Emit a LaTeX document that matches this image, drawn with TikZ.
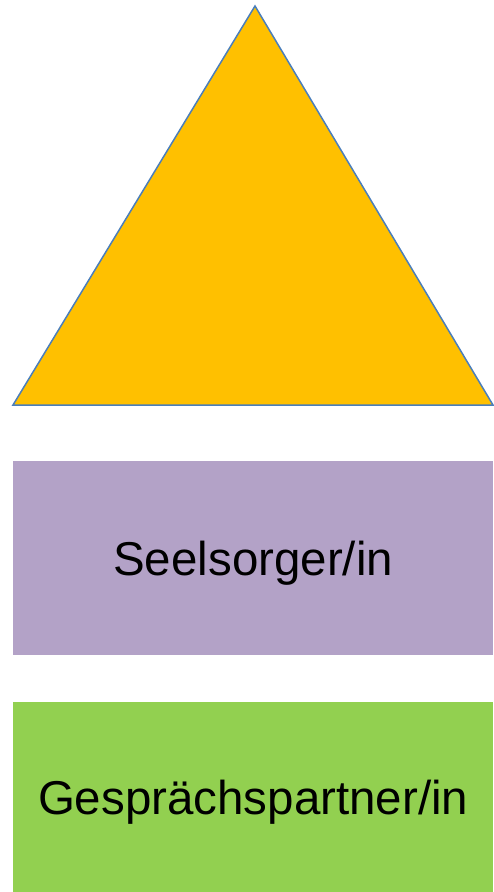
\documentclass[tikz,border=0pt]{standalone}
\usepackage{fontspec}
\setmainfont{Liberation Sans}
\usetikzlibrary{positioning}
\definecolor{triorange}{HTML}{FFC000}
\definecolor{triblue}{HTML}{4A7EBB}
\definecolor{seelpurple}{HTML}{B3A2C7}
\definecolor{partgreen}{HTML}{92D050}
\tikzset{
  tri/.style={draw=triblue, line width=1.5pt, fill=triorange, line join=miter},
  role/.style={rectangle, minimum width=480pt, inner sep=0pt, text height=34pt, text depth=0pt,
    font=\fontsize{47.5}{57}\selectfont, text=black}
}

\begin{document}
\begin{tikzpicture}[x=1pt,y=-1pt]
  \useasboundingbox (0,0) rectangle (493,892);

  % the triangle on top
  \coordinate (apex) at (255,6);
  \coordinate (baseL) at (13,405);
  \coordinate (baseR) at (493,405);
  \draw[tri] (apex) -- (baseR) -- (baseL) -- cycle;

  % the two role boxes below it
  \node[role, fill=seelpurple, minimum height=194pt, anchor=north west] (seel) at (13,461) {Seelsorger/in};
  \node[role, fill=partgreen, minimum height=190pt, anchor=north west] (partner) at (13,702) {Gesprächspartner/in};
\end{tikzpicture}
\end{document}
